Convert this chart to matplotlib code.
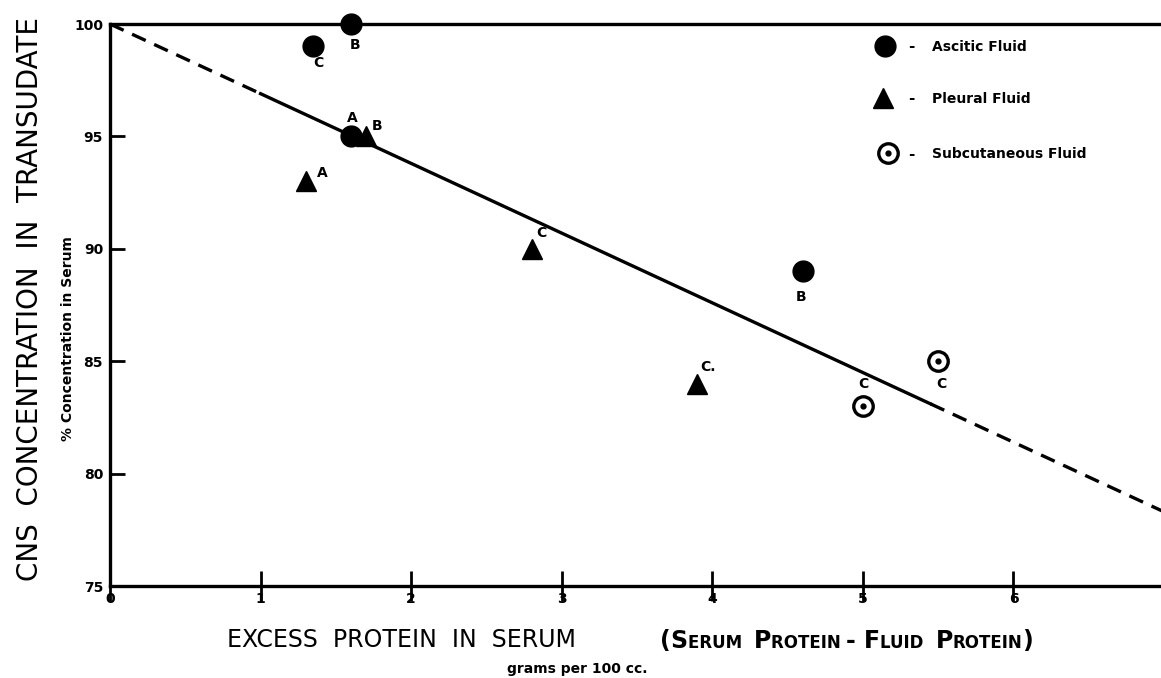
import matplotlib
matplotlib.use("Agg")
import matplotlib.pyplot as plt
from matplotlib.lines import Line2D

# ---------------- data ----------------
ascitic_x = [1.6, 1.35, 1.6, 4.6]
ascitic_y = [100, 99, 95, 89]
ascitic_lbl = ["B", "C", "A", "B"]

pleural_x = [1.3, 1.7, 2.8, 3.9]
pleural_y = [93, 95, 90, 84]
pleural_lbl = ["A", "B", "C", "C."]

subcut_x = [5.0, 5.5]
subcut_y = [83, 85]
subcut_lbl = ["C", "C"]

# fitted line (dashed extrapolation - solid - dashed extrapolation)
line_x = [0.0, 1.0, 5.45, 7.0]
line_y = [100.0, 96.9, 83.1, 78.3]

x_ticks = [0, 1, 2, 3, 4, 5, 6]
y_ticks = [75, 80, 85, 90, 95, 100]

# label offsets (pixels: right, down) -- styling only
ascitic_off = [(4, 21), (5, 17), (1, -18), (-2, 26)]
pleural_off = [(17, -8), (11, -10), (10, -16), (11, -17)]
subcut_off = [(1, -22), (3, 23)]

W, H = 1161, 678
fig = plt.figure(figsize=(W / 100, H / 100), dpi=100)
fig.patch.set_facecolor("white")

L, R, T, B = 110, 1161, 24, 586
ax = fig.add_axes([L / W, 1 - B / H, (R - L) / W, (B - T) / H])
ax.set_xlim(0, 6.98)
ax.set_ylim(75, 100)

for s in ["left", "bottom", "top"]:
    ax.spines[s].set_linewidth(2.4)
    ax.spines[s].set_color("black")
ax.spines["right"].set_visible(False)

FONT = "DejaVu Sans"

ax.set_xticks(x_ticks)
ax.set_xticklabels([str(v) for v in x_ticks], fontweight="bold", fontsize=10, family=FONT)
ax.set_yticks(y_ticks)
ax.set_yticklabels([str(v) for v in y_ticks], fontweight="bold", fontsize=10, family=FONT)
ax.tick_params(axis="x", direction="inout", length=22, width=2, pad=-7)
ax.tick_params(axis="y", direction="in", length=11, width=2, pad=5)

lw = 2.4
ax.plot(line_x[0:2], line_y[0:2], color="black", lw=lw, dashes=(4.5, 2.8), clip_on=False)
ax.plot(line_x[1:3], line_y[1:3], color="black", lw=lw, clip_on=False)
ax.plot(line_x[2:4], line_y[2:4], color="black", lw=lw, dashes=(4.5, 2.8), clip_on=False)

ax.plot(ascitic_x, ascitic_y, "o", color="black", ms=15, ls="none", clip_on=False, zorder=5)
ax.plot(pleural_x, pleural_y, "^", color="black", ms=14, ls="none", clip_on=False, zorder=5)
ax.plot(subcut_x, subcut_y, "o", mfc="white", mec="black", mew=2.4, ms=14, ls="none", clip_on=False, zorder=5)
ax.plot(subcut_x, subcut_y, "o", color="black", ms=3.5, ls="none", clip_on=False, zorder=6)

def label_points(xs, ys, lbls, offs):
    for x, y, t, (dx, dy) in zip(xs, ys, lbls, offs):
        ax.annotate(t, (x, y), xytext=(dx, -dy), textcoords="offset pixels",
                    ha="center", va="center", fontsize=10, fontweight="bold", family=FONT)

label_points(ascitic_x, ascitic_y, ascitic_lbl, ascitic_off)
label_points(pleural_x, pleural_y, pleural_lbl, pleural_off)
label_points(subcut_x, subcut_y, subcut_lbl, subcut_off)

# ---------------- legend (manual) ----------------
def fx(px):
    return px / W

def fy(py):
    return 1 - py / H

leg = [
    ("o", dict(color="black", ms=15), "Ascitic Fluid", 885, 46),
    ("^", dict(color="black", ms=14), "Pleural Fluid", 883, 98),
    ("o", dict(mfc="white", mec="black", mew=2.4, ms=14), "Subcutaneous Fluid", 888, 153),
]
for mk, kw, name, mx, my in leg:
    fig.add_artist(Line2D([fx(mx)], [fy(my)], marker=mk, ls="none", transform=fig.transFigure, **kw))
    if name.startswith("Subcut"):
        fig.add_artist(Line2D([fx(mx)], [fy(my)], marker="o", ls="none", color="black", ms=3.5,
                              transform=fig.transFigure))
    fig.text(fx(911), fy(my + 1), "-", fontsize=11, fontweight="bold", ha="center", va="center", family=FONT)
    fig.text(fx(932), fy(my + 1), name, fontsize=10, fontweight="bold", ha="left", va="center", family=FONT)

# ---------------- axis titles ----------------
fig.text(fx(30), fy(299), "CNS  CONCENTRATION  IN  TRANSUDATE", rotation=90, fontsize=20,
         ha="center", va="center", family=FONT)
fig.text(fx(68), fy(339), "% Concentration in Serum", rotation=90, fontsize=10, fontweight="bold",
         ha="center", va="center", family=FONT)

fig.text(fx(401), fy(640), "EXCESS  PROTEIN  IN  SERUM", fontsize=17, ha="center", va="center",
         family=FONT)

# small caps "(SERUM PROTEIN - FLUID PROTEIN)"
pieces = [("(", 17), ("S", 17), ("ERUM  ", 12), ("P", 17), ("ROTEIN ", 12), ("- ", 17),
          ("F", 17), ("LUID  ", 12), ("P", 17), ("ROTEIN", 12), (")", 17)]
renderer = fig.canvas.get_renderer()
xcur = 660
for txt, sz in pieces:
    t = fig.text(fx(xcur), fy(648), txt, fontsize=sz, fontweight="bold", ha="left", va="baseline",
                 family=FONT)
    bb = t.get_window_extent(renderer=renderer)
    xcur += bb.width

fig.text(fx(577), fy(669), "grams per 100 cc.", fontsize=10, fontweight="bold", ha="center",
         va="center", family=FONT)

fig.savefig("out.png", dpi=100, facecolor="white")
